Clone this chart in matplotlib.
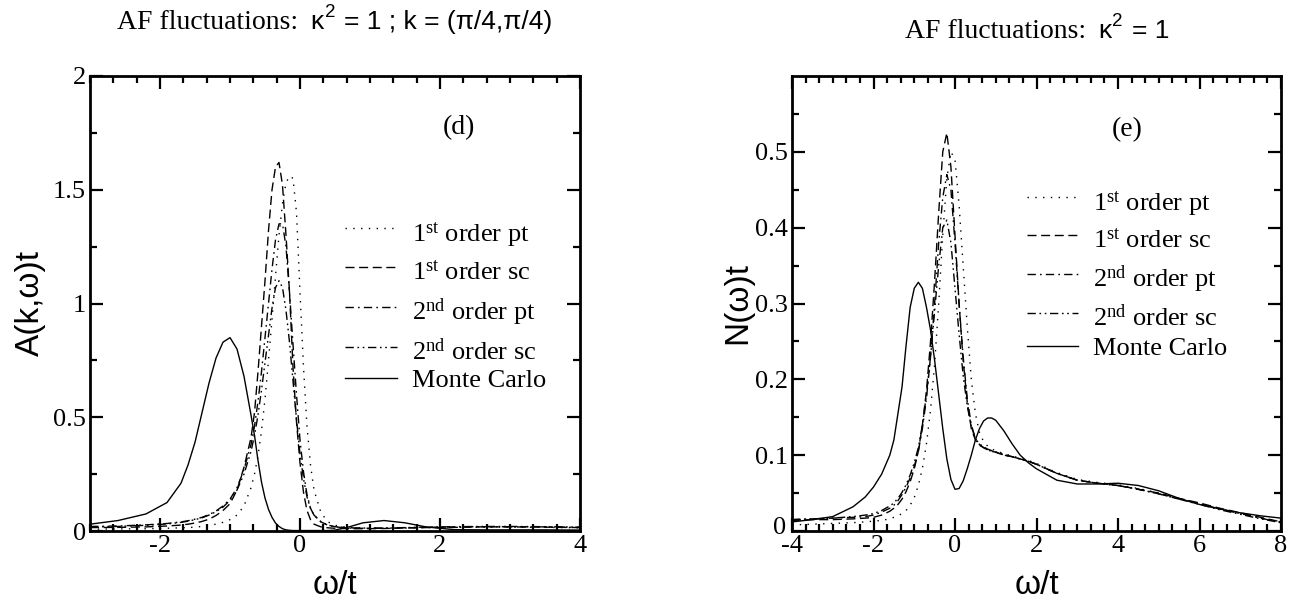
import matplotlib
matplotlib.use("Agg")
import matplotlib.pyplot as plt
from matplotlib.lines import Line2D
from matplotlib.ticker import FixedLocator, FuncFormatter
from matplotlib.transforms import ScaledTranslation
import numpy as np

SERIF = "Liberation Serif"
SANS = "Liberation Sans"
plt.rcParams["font.family"] = [SERIF, "DejaVu Serif"]
plt.rcParams["lines.scale_dashes"] = False
plt.rcParams["mathtext.fontset"] = "custom"
plt.rcParams["mathtext.rm"] = SERIF
plt.rcParams["mathtext.it"] = SERIF + ":italic"

# ---------------- data: panel (d)  A(k,w)t ----------------
xL = [-3.0, -2.6, -2.2, -1.9, -1.7, -1.6, -1.5, -1.4, -1.3, -1.2, -1.1, -1.0, -0.9, -0.8, -0.7,
      -0.65, -0.6, -0.55, -0.5, -0.45, -0.4, -0.35, -0.3, -0.25, -0.2, -0.15, -0.1, -0.05,
      0.0, 0.05, 0.1, 0.15, 0.2, 0.3, 0.4, 0.5, 0.7, 0.9, 1.2, 1.5, 1.8, 2.2, 2.6, 3.0, 3.5, 4.0]
L_pt1 = [0.008, 0.009, 0.010, 0.012, 0.014, 0.015, 0.017, 0.020, 0.024, 0.030, 0.038, 0.050, 0.070, 0.110, 0.190,
         0.250, 0.330, 0.440, 0.580, 0.750, 0.930, 1.120, 1.300, 1.440, 1.530, 1.560, 1.550, 1.400,
         1.050, 0.720, 0.460, 0.290, 0.180, 0.080, 0.040, 0.025, 0.015, 0.012, 0.012, 0.013, 0.015, 0.016, 0.017, 0.017, 0.016, 0.014]
L_sc1 = [0.015, 0.016, 0.018, 0.022, 0.026, 0.030, 0.035, 0.042, 0.052, 0.068, 0.090, 0.120, 0.180, 0.280, 0.410,
         0.520, 0.700, 0.900, 1.100, 1.320, 1.500, 1.600, 1.620, 1.520, 1.300, 1.050, 0.720, 0.480,
         0.300, 0.170, 0.090, 0.050, 0.030, 0.018, 0.014, 0.012, 0.010, 0.010, 0.011, 0.013, 0.015, 0.016, 0.018, 0.018, 0.017, 0.015]
L_pt2 = [0.020, 0.022, 0.027, 0.033, 0.040, 0.045, 0.052, 0.060, 0.072, 0.088, 0.110, 0.140, 0.190, 0.270, 0.380,
         0.460, 0.570, 0.700, 0.850, 1.000, 1.150, 1.280, 1.350, 1.350, 1.250, 1.050, 0.820, 0.600,
         0.400, 0.260, 0.160, 0.100, 0.070, 0.040, 0.025, 0.018, 0.013, 0.012, 0.012, 0.014, 0.016, 0.018, 0.019, 0.019, 0.018, 0.016]
L_sc2 = [0.018, 0.020, 0.025, 0.031, 0.038, 0.043, 0.050, 0.058, 0.070, 0.085, 0.105, 0.135, 0.180, 0.250, 0.350,
         0.420, 0.510, 0.620, 0.740, 0.860, 0.980, 1.070, 1.100, 1.070, 0.970, 0.830, 0.660, 0.490,
         0.340, 0.230, 0.150, 0.100, 0.070, 0.040, 0.026, 0.019, 0.014, 0.013, 0.013, 0.015, 0.017, 0.019, 0.020, 0.020, 0.019, 0.017]
L_mc = [0.030, 0.046, 0.075, 0.125, 0.210, 0.290, 0.390, 0.520, 0.650, 0.760, 0.830, 0.850, 0.800, 0.680, 0.510,
        0.420, 0.310, 0.215, 0.145, 0.095, 0.060, 0.035, 0.020, 0.010, 0.005, 0.003, 0.002, 0.002,
        0.002, 0.002, 0.002, 0.002, 0.002, 0.002, 0.002, 0.004, 0.018, 0.036, 0.046, 0.036, 0.018, 0.006, 0.005, 0.005, 0.005, 0.004]

# ---------------- data: panel (e)  N(w)t ----------------
xR = [-4.0, -3.5, -3.0, -2.5, -2.2, -2.0, -1.8, -1.6, -1.5, -1.4, -1.3, -1.2, -1.1, -1.0, -0.9, -0.8,
      -0.7, -0.6, -0.5, -0.4, -0.3, -0.2, -0.1, 0.0, 0.1, 0.2, 0.3, 0.4, 0.5, 0.6, 0.7, 0.8, 0.9, 1.0,
      1.2, 1.4, 1.6, 1.8, 2.0, 2.5, 3.0, 3.5, 4.0, 4.5, 5.0, 5.5, 6.0, 6.5, 7.0, 7.5, 8.0]
R_pt1 = [0.008, 0.009, 0.010, 0.011, 0.012, 0.013, 0.014, 0.016, 0.018, 0.020, 0.023, 0.027, 0.034, 0.044, 0.060, 0.083,
         0.115, 0.160, 0.220, 0.300, 0.390, 0.465, 0.500, 0.490, 0.430, 0.350, 0.270, 0.200, 0.155, 0.130, 0.118, 0.112, 0.108, 0.106,
         0.102, 0.099, 0.096, 0.093, 0.089, 0.077, 0.068, 0.064, 0.061, 0.056, 0.050, 0.043, 0.036, 0.029, 0.023, 0.017, 0.012]
R_sc1 = [0.014, 0.015, 0.015, 0.016, 0.017, 0.018, 0.021, 0.026, 0.030, 0.035, 0.042, 0.052, 0.065, 0.082, 0.105, 0.140,
         0.185, 0.250, 0.330, 0.420, 0.500, 0.525, 0.480, 0.390, 0.300, 0.225, 0.170, 0.135, 0.120, 0.113, 0.110, 0.107, 0.105, 0.104,
         0.100, 0.098, 0.095, 0.092, 0.088, 0.076, 0.067, 0.063, 0.060, 0.055, 0.050, 0.043, 0.037, 0.030, 0.024, 0.018, 0.012]
R_pt2 = [0.015, 0.016, 0.017, 0.018, 0.019, 0.021, 0.025, 0.030, 0.034, 0.040, 0.048, 0.058, 0.070, 0.085, 0.105, 0.135,
         0.175, 0.230, 0.300, 0.380, 0.440, 0.470, 0.450, 0.380, 0.300, 0.230, 0.175, 0.140, 0.122, 0.114, 0.110, 0.107, 0.105, 0.104,
         0.100, 0.098, 0.095, 0.092, 0.088, 0.076, 0.067, 0.063, 0.060, 0.055, 0.049, 0.042, 0.036, 0.029, 0.023, 0.017, 0.011]
R_sc2 = [0.015, 0.016, 0.017, 0.019, 0.021, 0.023, 0.027, 0.033, 0.037, 0.043, 0.051, 0.061, 0.074, 0.090, 0.110, 0.140,
         0.180, 0.230, 0.290, 0.350, 0.400, 0.410, 0.380, 0.320, 0.260, 0.205, 0.165, 0.138, 0.122, 0.115, 0.111, 0.108, 0.106, 0.104,
         0.101, 0.098, 0.095, 0.092, 0.088, 0.076, 0.067, 0.063, 0.060, 0.055, 0.049, 0.042, 0.035, 0.028, 0.022, 0.016, 0.011]
R_mc = [0.012, 0.015, 0.019, 0.032, 0.045, 0.058, 0.075, 0.100, 0.120, 0.155, 0.190, 0.245, 0.295, 0.320, 0.328, 0.320,
        0.295, 0.265, 0.225, 0.180, 0.135, 0.095, 0.068, 0.055, 0.056, 0.066, 0.082, 0.100, 0.120, 0.135, 0.145, 0.149, 0.149, 0.146,
        0.132, 0.115, 0.100, 0.090, 0.082, 0.067, 0.062, 0.062, 0.063, 0.060, 0.053, 0.043, 0.035, 0.029, 0.024, 0.020, 0.017]

series_labels = ["1$^{\\rm st}$ order pt", "1$^{\\rm st}$ order sc",
                 "2$^{\\rm nd}$ order pt", "2$^{\\rm nd}$ order sc", "Monte Carlo"]

# ---------------- styles ----------------
styles = [(0, (1.0, 4.6)), (0, (6.5, 3.3)), (0, (6.0, 3.0, 1.2, 3.0)),
          (0, (6.0, 2.6, 1.2, 2.6, 1.2, 2.6)), "-"]
LW = 1.0

W, H = 1309, 603
fig = plt.figure(figsize=(W / 100, H / 100), dpi=100)


def fx(px):
    return px / W


def fy(py):
    return 1 - py / H


def make_axes(x0, x1):
    return fig.add_axes([fx(x0), fy(531), fx(x1) - fx(x0), fy(76) - fy(531)])


axL = make_axes(90, 580)
axR = make_axes(792, 1281)

for ys, st in zip([L_pt1, L_sc1, L_pt2, L_sc2, L_mc], styles):
    axL.plot(xL, ys, color="black", lw=LW, linestyle=st)
for ys, st in zip([R_pt1, R_sc1, R_pt2, R_sc2, R_mc], styles):
    axR.plot(xR, ys, color="black", lw=LW, linestyle=st)

fmt = FuncFormatter(lambda v, p: f"{v:g}")

axL.set_xlim(-3, 4)
axL.set_ylim(0, 2)
axL.xaxis.set_major_locator(FixedLocator([-2, 0, 2, 4]))
axL.xaxis.set_minor_locator(FixedLocator(np.arange(-3, 4.001, 1 / 3)))
axL.yaxis.set_major_locator(FixedLocator([0, 0.5, 1, 1.5, 2]))
axL.yaxis.set_minor_locator(FixedLocator([0.25, 0.75, 1.25, 1.75]))

axR.set_xlim(-4, 8)
axR.set_ylim(0, 0.6)
axR.xaxis.set_major_locator(FixedLocator([-4, -2, 0, 2, 4, 6, 8]))
axR.xaxis.set_minor_locator(FixedLocator(np.arange(-4, 8.001, 1 / 3)))
axR.yaxis.set_major_locator(FixedLocator([0, 0.1, 0.2, 0.3, 0.4, 0.5]))
axR.yaxis.set_minor_locator(FixedLocator([0.05, 0.15, 0.25, 0.35, 0.45, 0.55]))

for ax in (axL, axR):
    ax.xaxis.set_major_formatter(fmt)
    ax.yaxis.set_major_formatter(fmt)
    ax.tick_params(which="both", direction="in", top=True, right=True, width=1.6, color="black")
    ax.tick_params(which="major", length=9.5, labelsize=19, pad=3)
    ax.tick_params(which="minor", length=5)
    for lab in ax.get_xticklabels() + ax.get_yticklabels():
        lab.set_fontfamily(SERIF)
    for sp in ax.spines.values():
        sp.set_linewidth(2.0)

# lift the "0" y label of panel (e) a little so it clears the "-4" below it
zero_tick = axR.yaxis.get_major_ticks()[0]
zero_tick.label1.set_transform(zero_tick.label1.get_transform()
                               + ScaledTranslation(-1 / 72, 4 / 72, fig.dpi_scale_trans))

axL.set_xlabel("ω/t", fontfamily=SANS, fontsize=24)
axR.set_xlabel("ω/t", fontfamily=SANS, fontsize=24)
axL.set_ylabel("A(k,ω)t", fontfamily=SANS, fontsize=24)
axR.set_ylabel("N(ω)t", fontfamily=SANS, fontsize=24)
for ax, xl in ((axL, 30), (axR, 738)):
    ax.xaxis.set_label_coords(0.5, (531 - 586) / 455)
    ax.xaxis.label.set_va("center")
    ax.yaxis.set_label_coords((xl - ax.get_position().x0 * W) / (ax.get_position().width * W), 0.5)
    ax.yaxis.label.set_va("center")
    ax.yaxis.label.set_ha("center")

# panel letters
fig.text(fx(459), fy(128), "(d)", fontsize=20, fontfamily=SERIF, ha="center", va="center")
fig.text(fx(1127), fy(130), "(e)", fontsize=20, fontfamily=SERIF, ha="center", va="center")

# legends (manual, as in the original)
def draw_legend(rows_y, lx0, lx1, tx, offsets):
    for y, st, lab, off in zip(rows_y, styles, series_labels, offsets):
        fig.add_artist(Line2D([fx(lx0), fx(lx1)], [fy(y), fy(y)], transform=fig.transFigure,
                              color="black", lw=LW, linestyle=st))
        fig.text(fx(tx), fy(y + off), lab, fontsize=19, fontfamily=SERIF, ha="left", va="baseline")


draw_legend([228, 267, 307, 347, 378], 345, 397, 412, [13, 13, 13, 13, 9])
draw_legend([197, 235, 274, 313, 346], 1027, 1078, 1093, [13, 13, 13, 13, 9])

# titles: Times part + Helvetica part with superscript
renderer = fig.canvas.get_renderer()


def title(center_px, base_py, tail):
    parts = [("AF fluctuations:", SERIF, 20, 0, 0),
             ("κ", SANS, 19, 12, 0),
             ("2", SANS, 13.5, 1, 12),
             (tail, SANS, 19, 9, 0)]
    texts = []
    for s, fam, size, gap, dy in parts:
        t = fig.text(0, fy(base_py - dy), s, fontsize=size, fontfamily=fam, ha="left", va="baseline")
        texts.append((t, gap))
    widths = [t.get_window_extent(renderer).width for t, _ in texts]
    total = sum(widths) + sum(g for _, g in texts[1:])
    x = center_px - total / 2
    for i, ((t, gap), w) in enumerate(zip(texts, widths)):
        if i > 0:
            x += gap
        t.set_x(fx(x))
        x += w


title(335, 29, "= 1 ; k = (π/4,π/4)")
title(1037, 38, "= 1")

fig.savefig("out.png", dpi=100)
